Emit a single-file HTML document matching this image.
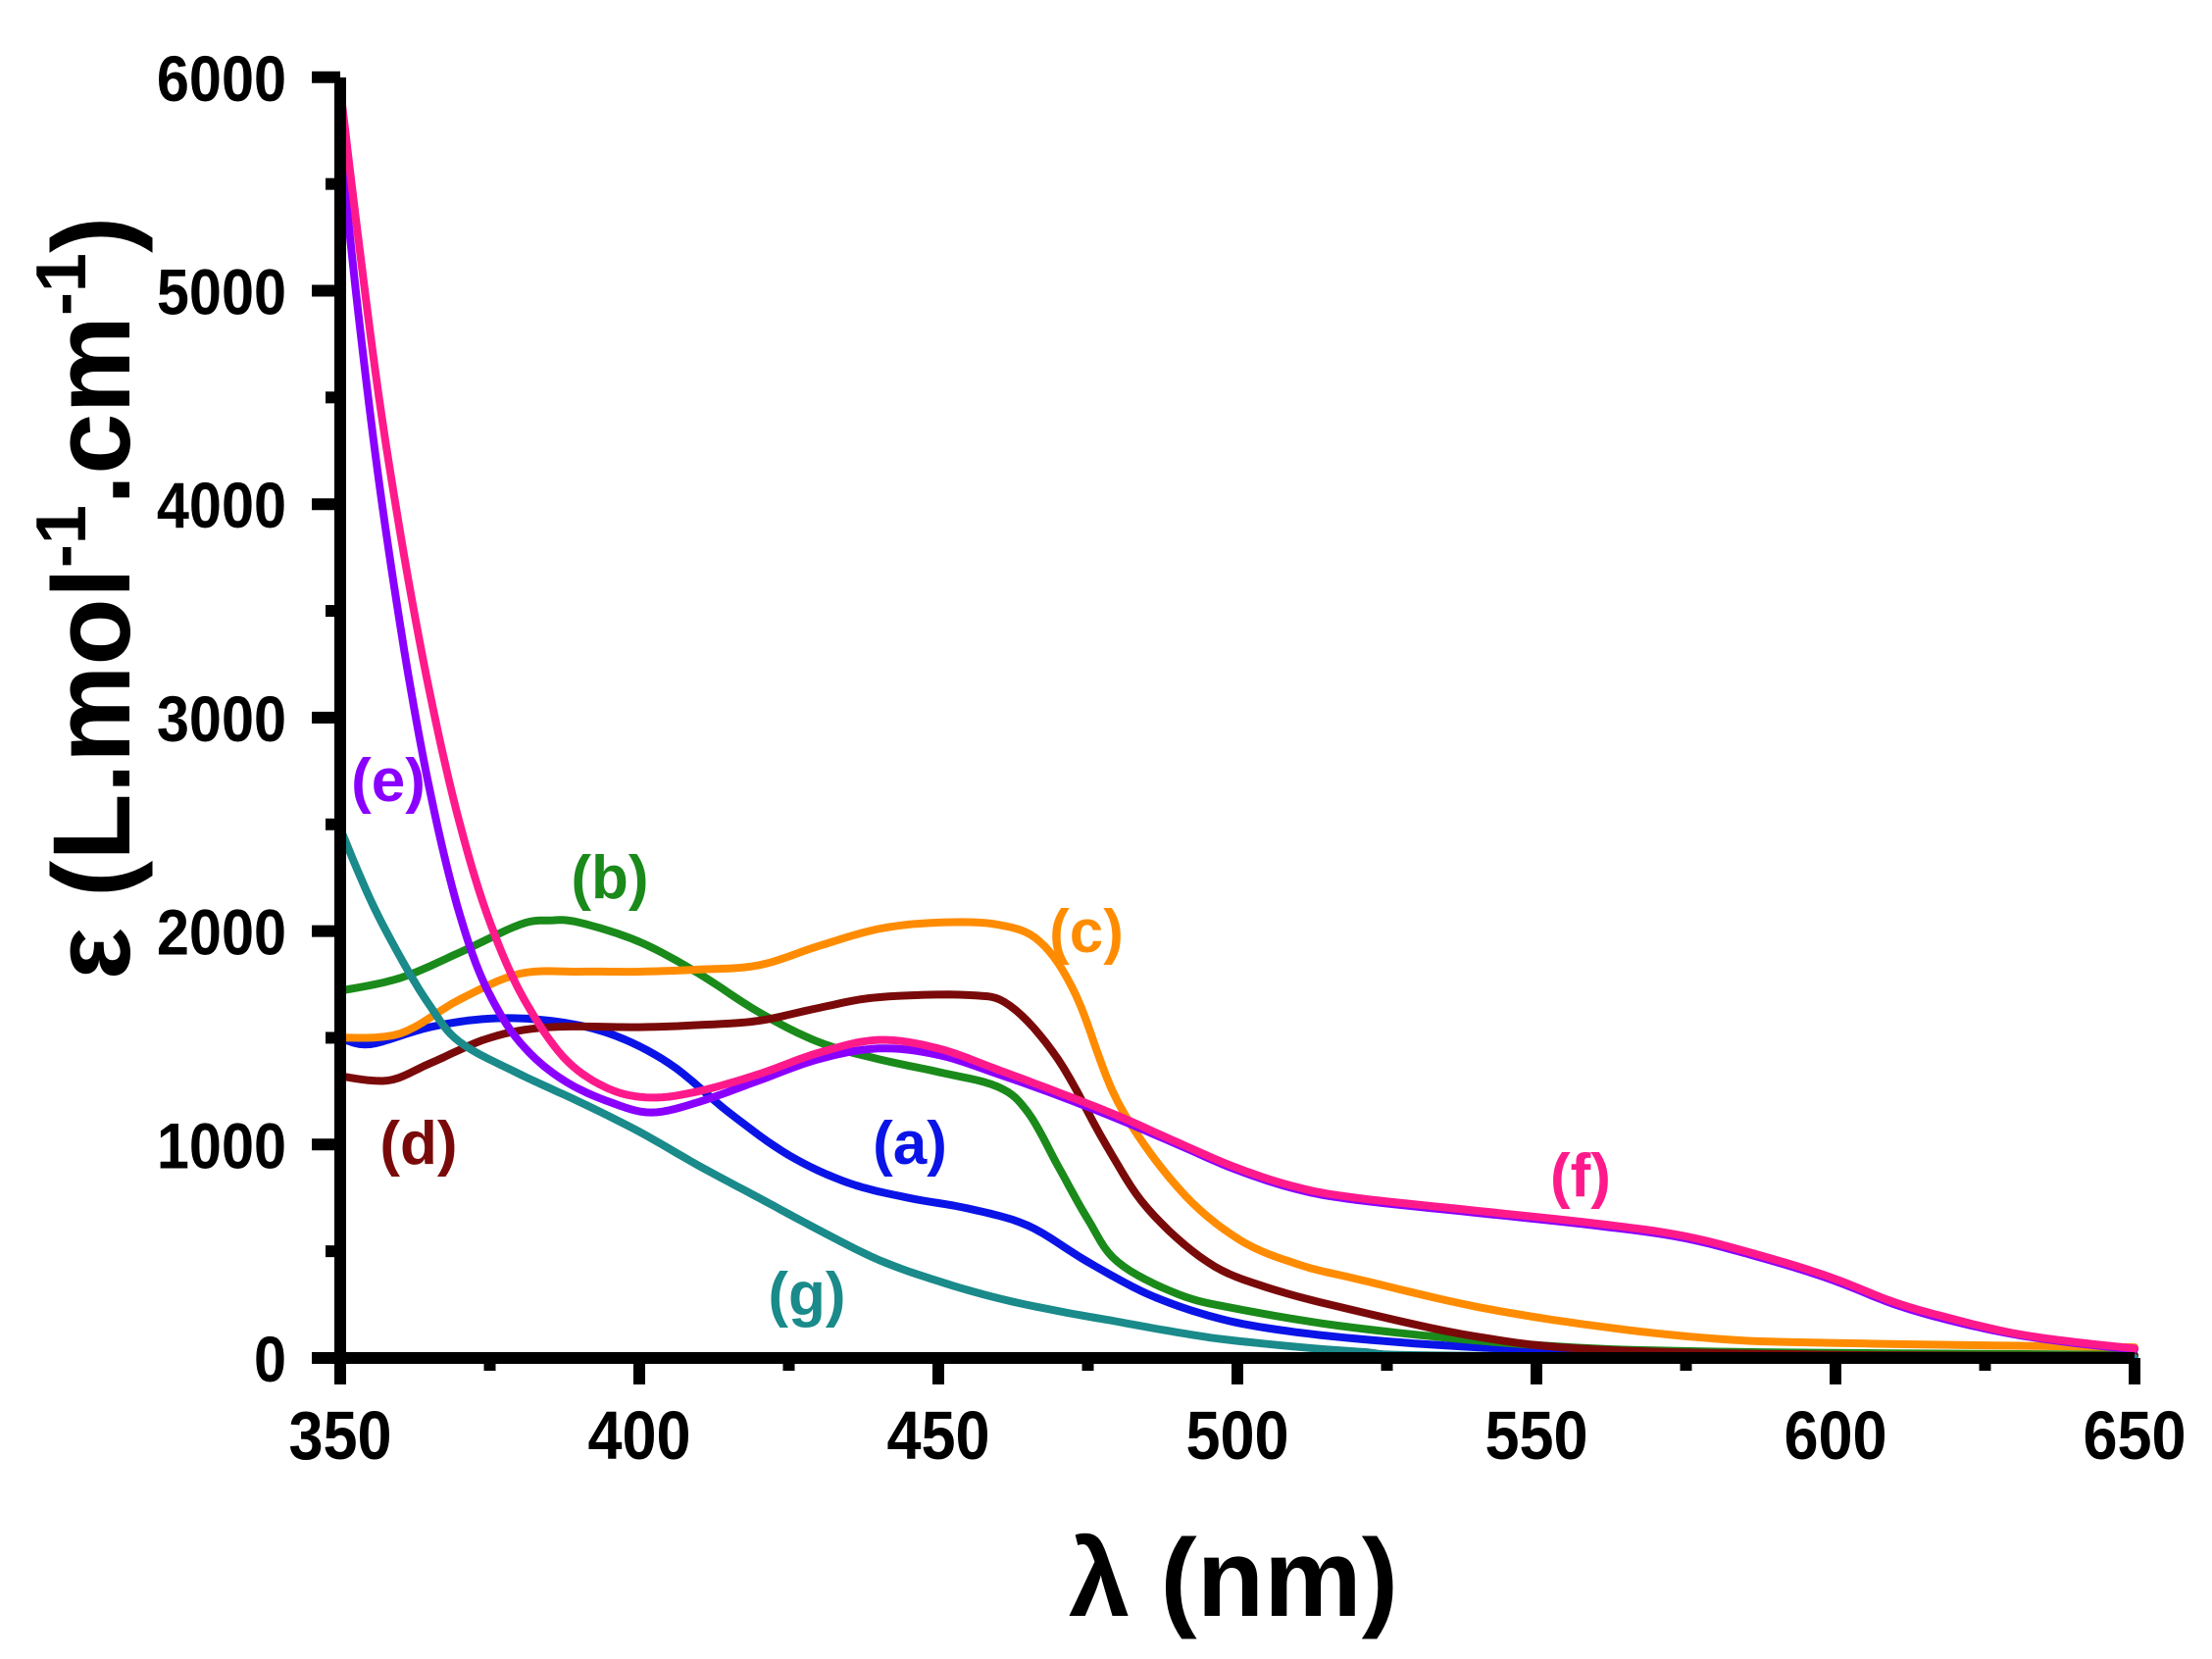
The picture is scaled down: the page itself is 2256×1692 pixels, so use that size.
<!DOCTYPE html>
<html><head><meta charset="utf-8"><style>
html,body{margin:0;padding:0;background:#fff;}
svg{display:block;}
text{font-family:"Liberation Sans",Arial,sans-serif;font-weight:bold;}
</style></head><body>
<svg id="s" width="2256" height="1692" viewBox="0 0 2256 1692" xmlns="http://www.w3.org/2000/svg">
<g id="curves" fill="none" stroke-width="8" stroke-linejoin="round" stroke-linecap="round"></g>
<g id="axes" stroke="#000" stroke-width="12" fill="none"></g>
<g id="labels"></g>
<text x="0" y="0" font-size="112" transform="translate(132,610) rotate(-90)" text-anchor="middle">ε (L.mol<tspan font-size="72" dy="-45">-1</tspan><tspan dy="45">.cm</tspan><tspan font-size="72" dy="-45">-1</tspan><tspan dy="45">)</tspan></text>
<text x="1258" y="1648" font-size="112" text-anchor="middle">λ (nm)</text>
</svg>
<script>
var NS="http://www.w3.org/2000/svg";
function px(x){return 347+(x-350)*6.1;}
function py(y){return 1385-y*0.2177;}
function el(t,a,p){var e=document.createElementNS(NS,t);for(var k in a)e.setAttribute(k,a[k]);p.appendChild(e);return e;}
var ax=document.getElementById('axes'),lb=document.getElementById('labels'),cv=document.getElementById('curves');
el('line',{x1:347,y1:79,x2:347,y2:1412},ax);
el('line',{x1:318,y1:1385,x2:2177,y2:1385},ax);
for(var v=0;v<=6000;v+=500){var y=py(v);var maj=v%1000==0;el('line',{x1:maj?318:332,y1:y,x2:347,y2:y},ax);
 if(maj){var t=el('text',{x:0,y:0,'font-size':66,'text-anchor':'end',transform:'translate(292,'+(y+24)+') scale(0.9,1)'},lb);t.textContent=v;}}
for(var w=350;w<=650;w+=25){var x=px(w);var maj=w%50==0;el('line',{x1:x,y1:1385,x2:x,y2:maj?1412:1398},ax);
 if(maj){var t=el('text',{x:0,y:0,'font-size':70,'text-anchor':'middle',transform:'translate('+x+',1488) scale(0.9,1)'},lb);t.textContent=w;}}
var D={
'#0a14e6':[[350,1500],[355,1470],[365,1550],[375,1590],[385,1580],[395,1520],[405,1380],[415,1150],[425,950],[435,820],[445,750],[455,700],[465,620],[475,450],[485,300],[495,200],[505,140],[520,90],[540,50],[560,30],[600,15],[650,10]],
'#1a8a1a':[[350,1720],[360,1780],[370,1900],[380,2030],[385,2050],[390,2040],[400,1950],[410,1800],[420,1620],[430,1480],[440,1400],[450,1340],[460,1270],[465,1150],[470,900],[475,650],[480,450],[490,300],[500,230],[520,140],[550,60],[580,30],[650,15]],
'#ff8c00':[[350,1500],[360,1520],[370,1680],[380,1800],[390,1810],[400,1810],[410,1820],[420,1840],[430,1930],[440,2010],[450,2040],[460,2030],[467,1950],[473,1700],[480,1200],[490,800],[500,560],[510,440],[520,370],[540,240],[560,150],[580,90],[600,70],[650,50]],
'#7a0a0a':[[350,1320],[358,1300],[365,1380],[375,1500],[385,1550],[400,1550],[410,1560],[420,1580],[430,1640],[440,1690],[455,1700],[462,1650],[470,1400],[478,1000],[485,700],[495,450],[505,330],[520,220],[540,100],[560,40],[600,15],[650,10]],
'#1a8a8a':[[350,2480],[355,2150],[360,1880],[365,1650],[370,1480],[380,1330],[390,1200],[400,1060],[410,900],[420,750],[430,600],[440,460],[450,360],[460,280],[470,220],[480,170],[490,120],[500,80],[520,30],[540,10],[650,0]],
'#8a00ff':[[350,5700],[353,4900],[357,4000],[362,3100],[367,2400],[372,1900],[377,1600],[382,1420],[388,1290],[395,1200],[402,1150],[410,1200],[420,1300],[430,1400],[440,1450],[450,1420],[460,1330],[470,1230],[480,1120],[490,1000],[500,880],[510,790],[520,740],[540,680],[560,620],[575,560],[590,450],[600,360],[610,250],[620,170],[630,110],[640,70],[650,40]],
'#ff1a8c':[[350,5950],[353,5250],[357,4400],[362,3550],[367,2850],[372,2300],[377,1900],[382,1620],[388,1390],[395,1260],[402,1220],[410,1250],[420,1330],[430,1430],[440,1490],[450,1450],[460,1350],[470,1245],[480,1135],[490,1010],[500,890],[510,800],[520,750],[540,690],[560,630],[575,570],[590,460],[600,370],[610,260],[620,180],[630,115],[640,75],[650,45]]};
for(var c in D){var p=D[c],s='';
 for(var i=0;i<p.length-1;i++){var p0=p[Math.max(i-1,0)],p1=p[i],p2=p[i+1],p3=p[Math.min(i+2,p.length-1)];
  for(var k=0;k<8;k++){var t=k/8,t2=t*t,t3=t2*t;
   var f=function(a,b,c2,d){return 0.5*((2*b)+(-a+c2)*t+(2*a-5*b+4*c2-d)*t2+(-a+3*b-3*c2+d)*t3);};
   var X=f(p0[0],p1[0],p2[0],p3[0]),Y=f(p0[1],p1[1],p2[1],p3[1]);
   s+=(s?'L':'M')+px(X).toFixed(1)+' '+py(Y).toFixed(1);}}
 s+='L'+px(p[p.length-1][0])+' '+py(p[p.length-1][1]);
 el('path',{d:s,stroke:c},cv);}
var L=[['(e)',396,796,'#8a00ff'],['(b)',622,895,'#1a8a1a'],['(c)',1108,950,'#ff8c00'],['(d)',427,1166,'#7a0a0a'],['(a)',928,1166,'#0a14e6'],['(f)',1612,1199,'#ff1a8c'],['(g)',823,1320,'#1a8a8a']];
L.forEach(function(l){var t=el('text',{x:l[1],y:l[2]+21,'font-size':62,'text-anchor':'middle',fill:l[3]},lb);t.textContent=l[0];});
</script>
</body></html>
